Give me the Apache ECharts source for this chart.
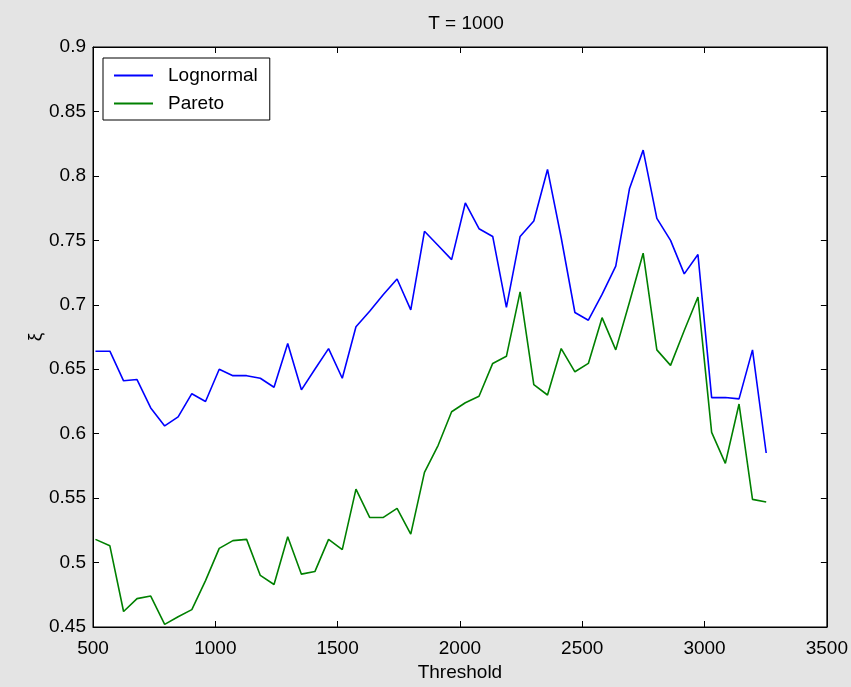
<!DOCTYPE html>
<html>
<head>
<meta charset="utf-8">
<script src="https://cdn.jsdelivr.net/npm/echarts@6/dist/echarts.min.js"></script>
<style>
html,body{margin:0;padding:0;background:#e4e4e4;}
#chart{width:851px;height:687px;}
</style>
</head>
<body>
<div id="chart"></div>
<script>
const titleText = 'T = 1000';
const xName = 'Threshold';
const yName = 'ξ';
const seriesNames = ['Lognormal', 'Pareto'];
const thresholds = [510,569,625,680,736,793,848,904,960,1016,1072,1128,1184,1240,1296,1352,1407,1463,1519,1575,1631,1687,1743,1799,1855,1911,1966,2022,2078,2134,2190,2246,2302,2358,2414,2470,2525,2581,2637,2693,2749,2805,2861,2917,2973,3029,3085,3141,3196,3252];
const lognormal = [0.664,0.664,0.641,0.642,0.620,0.606,0.613,0.631,0.625,0.650,0.645,0.645,0.643,0.636,0.670,0.634,0.650,0.666,0.643,0.683,0.695,0.708,0.720,0.696,0.757,0.746,0.735,0.779,0.759,0.753,0.698,0.753,0.765,0.805,0.752,0.694,0.688,0.708,0.730,0.790,0.820,0.767,0.750,0.724,0.739,0.628,0.628,0.627,0.665,0.585];
const pareto = [0.518,0.513,0.462,0.472,0.474,0.452,0.458,0.4635,0.486,0.511,0.517,0.518,0.490,0.483,0.520,0.491,0.493,0.518,0.510,0.557,0.535,0.535,0.542,0.522,0.570,0.591,0.617,0.624,0.629,0.6545,0.660,0.710,0.638,0.630,0.666,0.648,0.6545,0.690,0.665,0.702,0.740,0.665,0.653,0.680,0.706,0.601,0.577,0.623,0.549,0.547];

const FONT = 'Liberation Sans, Arial, sans-serif';
const FS = 19;
const chart = echarts.init(document.getElementById('chart'), null, {renderer: 'canvas'});
const axisCommon = {
  axisLine: {show: true, onZero: false, lineStyle: {color: '#000', width: 1}},
  axisTick: {show: true, inside: true, length: 6, lineStyle: {color: '#000', width: 1}},
  splitLine: {show: false}
};
const option = {
  backgroundColor: '#e4e4e4',
  animation: false,
  title: {
    text: titleText, left: 461, top: 9, textAlign: 'center',
    textStyle: {fontFamily: FONT, fontSize: FS, fontWeight: 'normal', color: '#000'}
  },
  grid: {left: 93, right: 22, top: 47, bottom: 60, show: true, backgroundColor: '#fff', borderColor: '#000', borderWidth: 1},
  legend: {
    orient: 'vertical', left: 103, top: 58,
    backgroundColor: '#fff', borderColor: '#000', borderWidth: 1,
    padding: [8, 12, 7, 11], itemGap: 9, itemWidth: 39, itemHeight: 2,
    icon: 'rect',
    textStyle: {fontFamily: FONT, fontSize: FS, color: '#000', padding: [0, 0, 0, 10]},
    data: seriesNames
  },
  xAxis: [
    Object.assign({
      type: 'value', min: 500, max: 3500, interval: 500, position: 'bottom',
      name: xName, nameLocation: 'middle', nameGap: 36, nameMoveOverlap: false,
      nameTextStyle: {fontFamily: FONT, fontSize: FS, color: '#000'},
      axisLabel: {fontFamily: FONT, fontSize: FS, color: '#000', margin: 12, showMinLabel: true, showMaxLabel: true,
        formatter: v => String(v)}
    }, axisCommon),
    Object.assign({
      type: 'value', min: 500, max: 3500, interval: 500, position: 'top',
      axisLabel: {show: false}
    }, axisCommon)
  ],
  yAxis: [
    Object.assign({
      type: 'value', min: 0.45, max: 0.9, interval: 0.05, position: 'left',
      name: yName, nameLocation: 'middle', nameGap: 48, nameRotate: 90, nameMoveOverlap: false,
      nameTextStyle: {fontFamily: FONT, fontSize: FS, color: '#000', padding: [0, 0, 0, 0]},
      axisLabel: {fontFamily: FONT, fontSize: FS, color: '#000', margin: 7, showMinLabel: true, showMaxLabel: true,
        formatter: v => String(Math.round(v * 100) / 100)}
    }, axisCommon),
    Object.assign({
      type: 'value', min: 0.45, max: 0.9, interval: 0.05, position: 'right',
      axisLabel: {show: false}
    }, axisCommon)
  ],
  series: [
    {
      name: seriesNames[0], type: 'line', symbol: 'none', color: '#0000ff',
      lineStyle: {color: '#0000ff', width: 1.6},
      data: thresholds.map((t, i) => [t, lognormal[i]])
    },
    {
      name: seriesNames[1], type: 'line', symbol: 'none', color: '#008000',
      lineStyle: {color: '#008000', width: 1.6},
      data: thresholds.map((t, i) => [t, pareto[i]])
    }
  ]
};
chart.setOption(option);
</script>
</body>
</html>
